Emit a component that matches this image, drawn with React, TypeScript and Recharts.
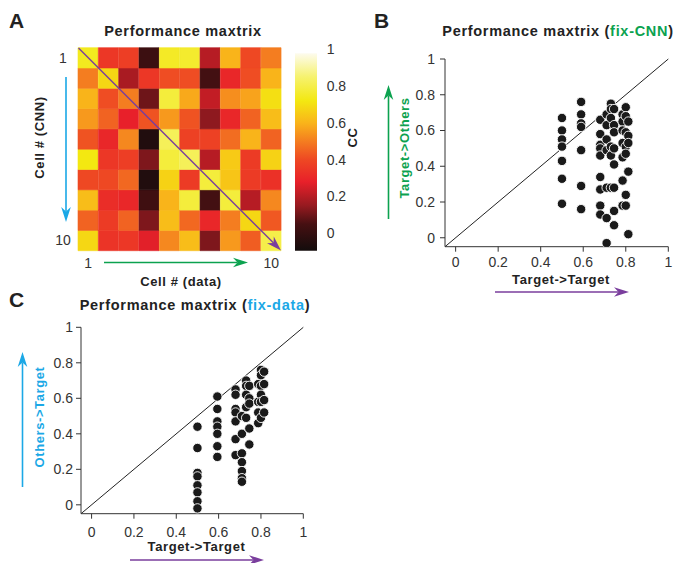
import React from 'react';
import {
  BarChart, Bar, Cell, ScatterChart, Scatter, XAxis, YAxis, ReferenceLine,
} from 'recharts';

// Panel A: CC matrix, rows = Cell # (CNN) 1..10, columns = Cell # (data) 1..10
const ccMatrix = [
  [0.74, 0.35, 0.37, 0.02, 0.75, 0.76, 0.2, 0.6, 0.4, 0.5],
  [0.5, 0.68, 0.18, 0.35, 0.41, 0.41, 0.04, 0.3, 0.41, 0.6],
  [0.6, 0.41, 0.5, 0.1, 0.78, 0.58, 0.22, 0.53, 0.57, 0.7],
  [0.55, 0.45, 0.28, 0.42, 0.55, 0.42, 0.14, 0.3, 0.45, 0.62],
  [0.42, 0.3, 0.52, -0.06, 0.82, 0.38, 0.38, 0.47, 0.6, 0.45],
  [0.72, 0.35, 0.37, 0.12, 0.78, 0.82, 0.2, 0.65, 0.36, 0.67],
  [0.4, 0.4, 0.46, -0.06, 0.67, 0.36, 0.78, 0.64, 0.36, 0.33],
  [0.62, 0.32, 0.3, 0.03, 0.6, 0.78, 0.04, 0.78, 0.2, 0.52],
  [0.45, 0.36, 0.45, 0.12, 0.62, 0.46, 0.3, 0.5, 0.68, 0.43],
  [0.68, 0.34, 0.35, 0.27, 0.52, 0.62, 0.12, 0.55, 0.44, 0.8],
];
const cellNumbers = [1, 2, 3, 4, 5, 6, 7, 8, 9, 10];

const colorbarRange = [-0.095, 0.978];
const colorbarTicks = [0, 0.2, 0.4, 0.6, 0.8, 1];

// Panels B and C: [Target->Target, list of off-target values]
const fixCnnColumns: [number, number[]][] = [
  [0.5, [0.67, 0.6, 0.55, 0.51, 0.43, 0.33, 0.19]],
  [0.59, [0.76, 0.69, 0.64, 0.62, 0.49, 0.29, 0.16]],
  [0.68, [0.66, 0.58, 0.52, 0.5, 0.46, 0.34, 0.27, 0.18, 0.13]],
  [0.71, [0.69, 0.63, 0.55, 0.49, 0.28, 0.11, -0.03]],
  [0.73, [0.75, 0.72, 0.67, 0.51, 0.46, 0.28]],
  [0.745, [0.72, 0.63, 0.59, 0.5, 0.41, 0.28, 0.15, 0.07]],
  [0.785, [0.69, 0.65, 0.6, 0.53, 0.45, 0.32, 0.18]],
  [0.8, [0.73, 0.68, 0.59, 0.51, 0.47, 0.24, 0.18]],
  [0.812, [0.65, 0.57, 0.53, 0.37, 0.02]],
];
const fixDataColumns: [number, number[]][] = [
  [0.5, [0.44, 0.32, 0.18, 0.16, 0.11, 0.07, 0.02, -0.02]],
  [0.594, [0.61, 0.54, 0.47, 0.44, 0.4, 0.33, 0.27]],
  [0.68, [0.65, 0.62, 0.54, 0.52, 0.47, 0.37, 0.28]],
  [0.71, [0.5, 0.4, 0.29, 0.24, 0.19, 0.15, 0.13]],
  [0.73, [0.7, 0.67, 0.62, 0.55, 0.49]],
  [0.745, [0.67, 0.6, 0.57, 0.43, 0.34]],
  [0.787, [0.68, 0.58, 0.52, 0.46]],
  [0.8, [0.76, 0.73, 0.67, 0.62, 0.58, 0.49]],
  [0.815, [0.75, 0.68, 0.59, 0.52]],
];
const scatterTicks = [0, 0.2, 0.4, 0.6, 0.8, 1];

// hot-like colormap
const cmapStops: [number, number[]][] = [
  [-0.1, [19, 12, 12]],
  [0.05, [70, 16, 18]],
  [0.15, [150, 26, 32]],
  [0.28, [232, 32, 42]],
  [0.4, [238, 72, 35]],
  [0.5, [244, 125, 32]],
  [0.6, [249, 180, 26]],
  [0.72, [243, 232, 17]],
  [0.85, [246, 242, 110]],
  [0.98, [253, 251, 238]],
];
const cmap = (v: number) => {
  if (v <= cmapStops[0][0]) return `rgb(${cmapStops[0][1].join(',')})`;
  for (let i = 1; i < cmapStops.length; i++) {
    const [v1, c1] = cmapStops[i];
    const [v0, c0] = cmapStops[i - 1];
    if (v <= v1) {
      const t = (v - v0) / (v1 - v0);
      const c = c0.map((a, k) => Math.round(a + (c1[k] - a) * t));
      return `rgb(${c.join(',')})`;
    }
  }
  return `rgb(${cmapStops[cmapStops.length - 1][1].join(',')})`;
};

const FONT = '"Liberation Sans", Arial, sans-serif';
const tickStyle = { fontSize: 14, fill: '#333', fontFamily: FONT };
const BLUE = '#1ba8e6';
const GREEN = '#0ca24f';
const PURPLE = '#7a3e9d';

const heatData = cellNumbers.map((c) => {
  const row: Record<string, number> = { col: c };
  ccMatrix.forEach((_, k) => { row[`r${k}`] = 1; });
  return row;
});

const toPoints = (cols: [number, number[]][]) =>
  cols.flatMap(([x, ys]) => ys.map((y) => ({ x, y })));

const Dot = (p: any) => (
  <circle cx={p.cx} cy={p.cy} r={4.7} fill="#1a1a1a" stroke="#fff" strokeWidth={0.9} />
);

const Heatmap = () => (
  <div style={{ position: 'absolute', left: 40.3, top: 40 }}>
    <BarChart width={260} height={240} data={heatData} barCategoryGap={0} barGap={0}
      margin={{ top: 7.7, right: 18.6, bottom: 4.3, left: 0 }}>
      <XAxis dataKey="col" type="category" height={25} interval={0} tickLine={false} axisLine={false}
        tickSize={5} tickMargin={2} tick={tickStyle}
        tickFormatter={(v) => (v === 1 || v === 10 ? String(v) : '')} />
      <YAxis type="number" domain={[0, 10]} ticks={[0.5, 9.5]} width={38} tickLine={false} axisLine={false}
        tick={(p: any) => (
          <text x={p.x - 7} y={p.y} dy="0.35em" textAnchor="middle" style={tickStyle}>
            {String(10.5 - p.payload.value)}
          </text>
        )} />
      {ccMatrix.map((_, i) => {
        const k = ccMatrix.length - 1 - i;
        return (
          <Bar key={k} dataKey={`r${k}`} stackId="h" isAnimationActive={false}>
            {cellNumbers.map((c, j) => (
              <Cell key={c} fill={cmap(ccMatrix[k][j])} stroke={cmap(ccMatrix[k][j])} strokeWidth={0.6} />
            ))}
          </Bar>
        );
      })}
    </BarChart>
  </div>
);

const Colorbar = () => {
  const span = colorbarRange[1] - colorbarRange[0];
  return (
    <div style={{ position: 'absolute', left: 280, top: 40 }}>
      <BarChart width={80} height={230} data={[{ k: 'cb', v: colorbarRange }]} barCategoryGap={0}
        margin={{ top: 9.3, right: 3.3, bottom: 18.3, left: 15 }}>
        <defs>
          <linearGradient id="cbGrad" x1="0" y1="1" x2="0" y2="0">
            {cmapStops.map(([v]) => (
              <stop key={v} offset={Math.min(1, Math.max(0, (v - colorbarRange[0]) / span))} stopColor={cmap(v)} />
            ))}
          </linearGradient>
        </defs>
        <XAxis dataKey="k" hide />
        <YAxis orientation="right" type="number" domain={[-0.1, 1]} ticks={colorbarTicks} width={40}
          tickLine={false} axisLine={false} tickSize={5} tickMargin={5} tick={tickStyle} allowDataOverflow />
        <Bar dataKey="v" fill="url(#cbGrad)" isAnimationActive={false} />
      </BarChart>
    </div>
  );
};

const ScatterPanel = ({ left, top, margin, cols, xTickMargin, yTickMargin }: any) => (
  <div style={{ position: 'absolute', left, top }}>
    <ScatterChart width={290} height={240} margin={margin}>
      <XAxis type="number" dataKey="x" domain={[-0.05, 1]} ticks={scatterTicks} height={30}
        tickFormatter={(v) => String(v)} tick={tickStyle} tickSize={5} tickMargin={xTickMargin}
        stroke="#333" allowDataOverflow />
      <YAxis type="number" dataKey="y" domain={[-0.05, 1]} ticks={scatterTicks} width={40}
        tickFormatter={(v) => String(v)} tick={tickStyle} tickSize={5} tickMargin={yTickMargin}
        stroke="#333" allowDataOverflow />
      <ReferenceLine segment={[{ x: -0.05, y: -0.05 }, { x: 1, y: 1 }]} stroke="#222" strokeWidth={1} ifOverflow="visible" />
      <Scatter data={toPoints(cols)} shape={Dot} isAnimationActive={false} />
    </ScatterChart>
  </div>
);

const Arrow = ({ x1, y1, x2, y2, color, w = 1.6 }: any) => {
  const dx = x2 - x1;
  const dy = y2 - y1;
  const len = Math.hypot(dx, dy);
  const ux = dx / len;
  const uy = dy / len;
  const hl = 15;
  const hw = 4.8;
  const bx = x2 - ux * hl;
  const by = y2 - uy * hl;
  const nx = x2 - ux * hl * 0.7;
  const ny = y2 - uy * hl * 0.7;
  const pts = [
    [x2, y2],
    [bx - uy * hw, by + ux * hw],
    [nx, ny],
    [bx + uy * hw, by - ux * hw],
  ].map((p) => p.join(',')).join(' ');
  return (
    <g>
      <line x1={x1} y1={y1} x2={nx} y2={ny} stroke={color} strokeWidth={w} />
      <polygon points={pts} fill={color} />
    </g>
  );
};

const titleProps = { fontSize: 14.5, fontWeight: 'bold', fill: '#222', textAnchor: 'middle', letterSpacing: 0.7 } as any;
const labelProps = { fontSize: 13, fontWeight: 'bold', textAnchor: 'middle', letterSpacing: 0.6 } as any;

const Overlay = () => (
  <svg width={678} height={563} style={{ position: 'absolute', left: 0, top: 0, pointerEvents: 'none' }}
    fontFamily={FONT}>
    {/* panel A */}
    <text x={9} y={28} fontSize={21} fontWeight="bold" fill="#222">A</text>
    <text x={183} y={36} {...titleProps}>Performance maxtrix</text>
    <text transform="translate(44,137.5) rotate(-90)" {...labelProps} fill="#222">Cell # (CNN)</text>
    <text x={181} y={286} {...labelProps} fill="#222">Cell # (data)</text>
    <text transform="translate(357,137.5) rotate(-90)" {...labelProps} fill="#222">CC</text>
    <Arrow x1={66} y1={77} x2={66} y2={222} color={BLUE} />
    <Arrow x1={104} y1={262.5} x2={248} y2={262.5} color={GREEN} />
    <Arrow x1={78.5} y1={48} x2={281} y2={250.5} color={PURPLE} w={1.4} />
    {/* panel B */}
    <text x={374} y={28} fontSize={21} fontWeight="bold" fill="#222">B</text>
    <text x={558} y={36} {...titleProps}>
      Performance maxtrix (<tspan fill={GREEN}>fix-CNN</tspan>)
    </text>
    <text transform="translate(409,148) rotate(-90)" {...labelProps} fill={GREEN}>Target-&gt;Others</text>
    <text x={561} y={284} {...labelProps} fill="#222">Target-&gt;Target</text>
    <Arrow x1={388.5} y1={219} x2={388.5} y2={85} color={GREEN} />
    <Arrow x1={495} y1={292} x2={629} y2={292} color={PURPLE} />
    {/* panel C */}
    <text x={9} y={307} fontSize={21} fontWeight="bold" fill="#222">C</text>
    <text x={195} y={310} {...titleProps}>
      Performance maxtrix (<tspan fill={BLUE}>fix-data</tspan>)
    </text>
    <text transform="translate(44,417) rotate(-90)" {...labelProps} fill={BLUE}>Others-&gt;Target</text>
    <text x={196.5} y={551} {...labelProps} fill="#222">Target-&gt;Target</text>
    <Arrow x1={22.5} y1={487} x2={22.5} y2={352} color={BLUE} />
    <Arrow x1={130} y1={560} x2={264} y2={560} color={PURPLE} />
  </svg>
);

export default function App() {
  return (
    <div style={{ position: 'absolute', left: 0, top: 0, width: 678, height: 563, background: '#fff', fontFamily: FONT }}>
      <Heatmap />
      <Colorbar />
      <ScatterPanel left={390} top={40} cols={fixCnnColumns} xTickMargin={5} yTickMargin={5}
        margin={{ top: 19, right: 11.7, bottom: 3.3, left: 15 }} />
      <ScatterPanel left={20} top={310} cols={fixDataColumns} xTickMargin={8} yTickMargin={3}
        margin={{ top: 17.3, right: 6.7, bottom: 6.3, left: 21 }} />
      <Overlay />
    </div>
  );
}
